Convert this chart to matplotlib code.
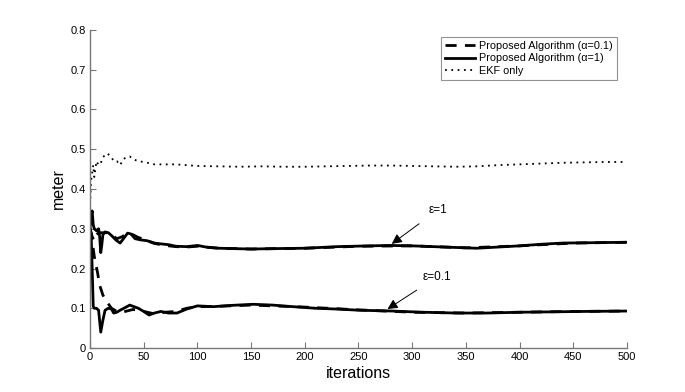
import matplotlib
matplotlib.use("Agg")
import matplotlib.pyplot as plt

plt.rcParams['font.family'] = ['Liberation Sans', 'DejaVu Sans']

# eps = 1, alpha = 1 (solid)
it_s1 = [0, 1, 2, 3, 4, 6, 8, 9, 10, 11, 12, 14, 17, 20, 24, 28, 32, 35, 38, 42, 47, 53, 60, 66, 73,
         80, 90, 100, 110, 120, 135, 150, 170, 200, 230, 260, 280, 300, 330, 360, 380, 400, 420,
         440, 470, 500]
v_s1 = [0.30, 0.33, 0.345, 0.31, 0.30, 0.295, 0.30, 0.28, 0.24, 0.26, 0.285, 0.292, 0.29, 0.283, 0.272,
        0.264, 0.278, 0.289, 0.287, 0.275, 0.272, 0.27, 0.264, 0.262, 0.26,
        0.256, 0.255, 0.258, 0.253, 0.251, 0.25, 0.249, 0.25, 0.251, 0.255, 0.257, 0.258, 0.257,
        0.254, 0.251, 0.254, 0.257, 0.261, 0.264, 0.265, 0.266]

# eps = 1, alpha = 0.1 (dashed)
it_d1 = [0, 2, 4, 6, 8, 12, 16, 20, 25, 30, 35, 40, 45, 50, 55, 60, 70, 80, 90, 100, 120, 150,
         200, 250, 300, 350, 400, 450, 500]
v_d1 = [0.30, 0.28, 0.27, 0.285, 0.29, 0.29, 0.29, 0.285, 0.275, 0.28, 0.29, 0.285, 0.278, 0.274,
        0.268, 0.263, 0.258, 0.255, 0.254, 0.256, 0.251, 0.249, 0.251, 0.256, 0.257, 0.252, 0.257,
        0.264, 0.266]

# eps = 0.1, alpha = 1 (solid)
it_s2 = [0, 1, 2, 3, 4, 6, 8, 10, 12, 14, 17, 20, 22, 25, 28, 33, 37, 41, 45, 50, 55, 60, 66, 73,
         81, 90, 100, 115, 130, 152, 170, 189, 210, 230, 251, 282, 310, 341, 370, 400, 430, 460,
         500]
v_s2 = [0.30, 0.29, 0.20, 0.105, 0.10, 0.10, 0.095, 0.04, 0.07, 0.095, 0.10, 0.098, 0.088, 0.09,
        0.095, 0.102, 0.108, 0.104, 0.10, 0.092, 0.083, 0.088, 0.092, 0.088,
        0.088, 0.098, 0.106, 0.104, 0.107, 0.11, 0.108, 0.104, 0.1, 0.098, 0.095, 0.093, 0.09,
        0.088, 0.088, 0.09, 0.091, 0.092, 0.093]

# eps = 0.1, alpha = 0.1 (dashed)
it_d2 = [0, 2, 4, 7, 9, 12, 16, 20, 25, 30, 40, 50, 60, 70, 80, 90, 100, 120, 150, 200, 250, 300,
         350, 400, 450, 500]
v_d2 = [0.30, 0.27, 0.23, 0.19, 0.158, 0.133, 0.115, 0.10, 0.092, 0.09, 0.097, 0.092, 0.086,
        0.09, 0.092, 0.1, 0.104, 0.105, 0.108, 0.103, 0.096, 0.09, 0.088, 0.09, 0.092, 0.093]

# EKF only (dotted)
it_ekf = [0, 1, 2, 3, 4, 5, 6, 8, 10, 12, 14, 16, 18, 20, 22, 25, 28, 31, 34, 37, 40, 45, 50, 55,
          60, 70, 80, 90, 100, 120, 140, 160, 180, 200, 220, 240, 260, 280, 300, 320, 340, 360,
          380, 400, 420, 440, 460, 480, 500]
v_ekf = [0.36, 0.42, 0.44, 0.46, 0.43, 0.45, 0.47, 0.46, 0.465, 0.48, 0.485, 0.49, 0.485, 0.48,
         0.47, 0.47, 0.46, 0.475, 0.48, 0.482, 0.475, 0.47, 0.468, 0.465,
         0.462, 0.462, 0.462, 0.46, 0.458, 0.457, 0.456, 0.457, 0.456, 0.456, 0.457, 0.458, 0.459,
         0.459, 0.458, 0.457, 0.456, 0.457, 0.46, 0.462, 0.464, 0.466, 0.467, 0.468, 0.468]

xticks = list(range(0, 501, 50))
yticks = [0, 0.1, 0.2, 0.3, 0.4, 0.5, 0.6, 0.7, 0.8]
ytick_labels = ['0', '0.1', '0.2', '0.3', '0.4', '0.5', '0.6', '0.7', '0.8']

fig = plt.figure(figsize=(6.85, 3.92), dpi=100)
ax = fig.add_axes([0.1314, 0.1122, 0.7839, 0.8113])

ax.plot(it_d1, v_d1, color='black', lw=2.0, ls=(0, (4, 3)), label='Proposed Algorithm (\u03b1=0.1)')
ax.plot(it_s1, v_s1, color='black', lw=2.0, ls='-', label='Proposed Algorithm (\u03b1=1)')
ax.plot(it_ekf, v_ekf, color='black', lw=1.3, ls=(0, (1, 2.5)), label='EKF only')
ax.plot(it_d2, v_d2, color='black', lw=2.0, ls=(0, (4, 3)))
ax.plot(it_s2, v_s2, color='black', lw=2.0, ls='-')

ax.set_xlim(0, 500)
ax.set_ylim(0, 0.8)
ax.set_xticks(xticks)
ax.set_yticks(yticks)
ax.set_yticklabels(ytick_labels)
ax.tick_params(direction='in', length=4, color='#777777', labelsize=8, pad=3)
for s in ['top', 'right']:
    ax.spines[s].set_visible(False)
for s in ['left', 'bottom']:
    ax.spines[s].set_color('#777777')
    ax.spines[s].set_linewidth(1.0)

ax.set_xlabel('iterations', fontsize=11.5, labelpad=3)
ax.set_ylabel('meter', fontsize=11.5, labelpad=3)

ax.annotate('\u03b5=1', xy=(281, 0.262), xytext=(315, 0.347), fontsize=8.5,
            ha='left', va='center',
            arrowprops=dict(arrowstyle='-|>', color='black', lw=0.7,
                            mutation_scale=15, shrinkA=6, shrinkB=0))
ax.annotate('\u03b5=0.1', xy=(277, 0.098), xytext=(310, 0.179), fontsize=8.5,
            ha='left', va='center',
            arrowprops=dict(arrowstyle='-|>', color='black', lw=0.7,
                            mutation_scale=15, shrinkA=6, shrinkB=0))

leg = ax.legend(loc='upper right', bbox_to_anchor=(0.981, 0.978), borderaxespad=0,
                fontsize=7.8, frameon=True, fancybox=False, handlelength=2.8,
                borderpad=0.35, labelspacing=0.25, handletextpad=0.4)
leg.get_frame().set_edgecolor('#777777')
leg.get_frame().set_linewidth(0.8)

fig.savefig('out.png', dpi=100)
